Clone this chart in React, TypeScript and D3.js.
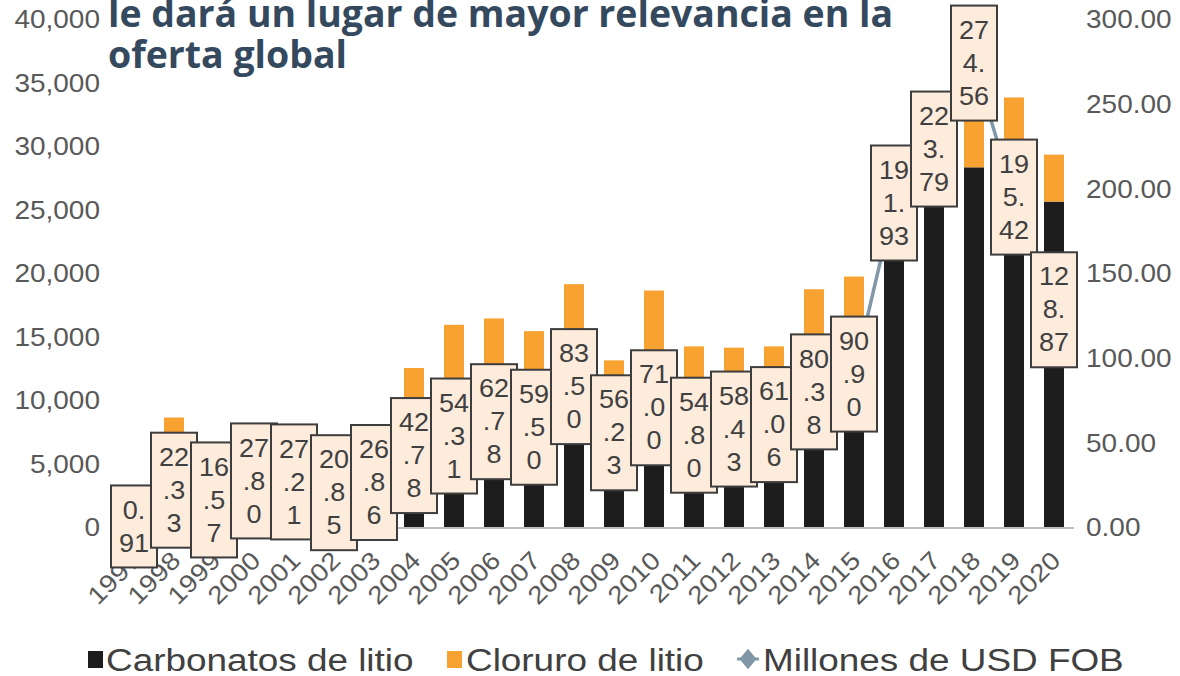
import React from "react";
import * as d3 from "d3";

const years = ["1997","1998","1999","2000","2001","2002","2003","2004","2005","2006","2007","2008","2009","2010","2011","2012","2013","2014","2015","2016","2017","2018","2019","2020"];
const carbonatos = [200,5000,4500,5500,5500,4800,5300,8000,10200,11500,11800,15000,11000,13800,11200,11600,12000,14800,16500,24000,28500,28400,27000,25700];
const cloruro = [0,3700,1800,2200,2000,1900,2300,4600,5800,5000,3700,4200,2200,4900,3100,2600,2300,4000,3300,1800,1500,5000,6900,3700];
const usdFob = [0.91,22.33,16.57,27.80,27.21,20.85,26.86,42.78,54.31,62.78,59.50,83.50,56.23,71.00,54.80,58.43,61.06,80.38,90.90,191.93,223.79,274.56,195.42,128.87];
const leftTicks = [0,5000,10000,15000,20000,25000,30000,35000,40000];
const rightTicks = [0,50,100,150,200,250,300];
const titleLines = ["le dará un lugar de mayor relevancia en la", "oferta global"];
const legendItems = ["Carbonatos de litio", "Cloruro de litio", "Millones de USD FOB"];

const BLACK = "#1d1d1d";
const ORANGE = "#f8a231";
const LINE = "#8097a8";
const TICK = "#595959";
const FONT = "'Liberation Sans', Arial, sans-serif";

function chunk(v: number): string[] {
  const s = v.toFixed(2);
  const out: string[] = [];
  for (let i = 0; i < s.length; i += 2) out.push(s.slice(i, i + 2));
  return out;
}

function SText(props: { x: number; y: number; sx: number; size: number; anchor?: string; fill?: string; rotate?: number; children: React.ReactNode; baseline?: string }) {
  const { x, y, sx, size, anchor = "start", fill = TICK, rotate = 0, children, baseline = "central" } = props;
  return (
    <text
      transform={`translate(${x},${y}) rotate(${rotate}) scale(${sx},1)`}
      textAnchor={anchor}
      dominantBaseline={baseline}
      fontFamily={FONT}
      fontSize={size}
      fill={fill}
    >
      {children}
    </text>
  );
}

export default function App() {
  const W = 1180, H = 676;
  const x = d3.scaleBand<string>().domain(years).range([114, 1074]).paddingInner(0.5).paddingOuter(0.25);
  const yL = d3.scaleLinear().domain([0, 40000]).range([528, 20]);
  const yR = d3.scaleLinear().domain([0, 300]).range([528, 20]);
  const bw = x.bandwidth();
  const cx = (y: string) => (x(y) as number) + bw / 2;

  const linePath = d3.line<number>().x((_, i) => cx(years[i])).y((d) => yR(d))(usdFob) as string;

  const lineH = 33;
  const boxW = 46;

  return (
    <svg width={W} height={H} style={{ position: "absolute", left: 0, top: 0, background: "#fff" }}>
      {/* title */}
      {titleLines.map((t, i) => (
        <text key={i} x={108} y={i === 0 ? 27 : 68} fontFamily="'Open Sans', sans-serif" fontWeight={700} fontSize={37}
          fill="#34495e" textLength={i === 0 ? 785 : 239} lengthAdjust="spacingAndGlyphs">{t}</text>
      ))}

      {/* left axis */}
      {leftTicks.map((t) => (
        <SText key={t} x={100} y={yL(t)} sx={1.12} size={25} anchor="end">{d3.format(",")(t)}</SText>
      ))}
      {/* right axis */}
      {rightTicks.map((t) => (
        <SText key={t} x={1086} y={yR(t)} sx={1.12} size={25} anchor="start">{t.toFixed(2)}</SText>
      ))}

      {/* bars */}
      {years.map((yr, i) => (
        <g key={yr}>
          <rect x={x(yr)} y={yL(carbonatos[i])} width={bw} height={yL(0) - yL(carbonatos[i])} fill={BLACK} />
          <rect x={x(yr)} y={yL(carbonatos[i] + cloruro[i])} width={bw} height={yL(carbonatos[i]) - yL(carbonatos[i] + cloruro[i])} fill={ORANGE} />
        </g>
      ))}

      {/* baseline */}
      <line x1={114} x2={1074} y1={yL(0)} y2={yL(0)} stroke="#bfbfbf" strokeWidth={2} />

      {/* line */}
      <path d={linePath} fill="none" stroke={LINE} strokeWidth={3.5} />

      {/* x labels */}
      {years.map((yr) => (
        <SText key={yr} x={cx(yr) + 8} y={562} sx={1.12} size={25} anchor="end" rotate={-45} baseline="auto">{yr}</SText>
      ))}

      {/* data label boxes */}
      {years.map((yr, i) => {
        const parts = chunk(usdFob[i]);
        const h = parts.length * lineH + 16;
        const c = cx(yr);
        const cy = yR(usdFob[i]);
        return (
          <g key={yr}>
            <rect x={c - boxW / 2} y={cy - h / 2} width={boxW} height={h} fill="#fdebdc" stroke="#3d3d3d" strokeWidth={2} />
            {parts.map((p, j) => (
              <SText key={j} x={c} y={cy + (j - (parts.length - 1) / 2) * lineH} sx={1.08} size={25} anchor="middle" fill="#404040">{p}</SText>
            ))}
          </g>
        );
      })}

      {/* legend */}
      <rect x={88} y={651} width={15} height={17} fill={BLACK} />
      <SText x={106} y={671} sx={1.19} size={31} baseline="auto" fill="#404040">{legendItems[0]}</SText>
      <rect x={447} y={651} width={15} height={17} fill={ORANGE} />
      <SText x={466} y={671} sx={1.19} size={31} baseline="auto" fill="#404040">{legendItems[1]}</SText>
      <line x1={737} x2={759} y1={659} y2={659} stroke={LINE} strokeWidth={3} />
      <path d={d3.symbol(d3.symbolDiamond, 150)() as string} transform="translate(748,659) scale(1.3,0.9)" fill={LINE} />
      <SText x={763} y={671} sx={1.19} size={31} baseline="auto" fill="#404040">{legendItems[2]}</SText>
    </svg>
  );
}
